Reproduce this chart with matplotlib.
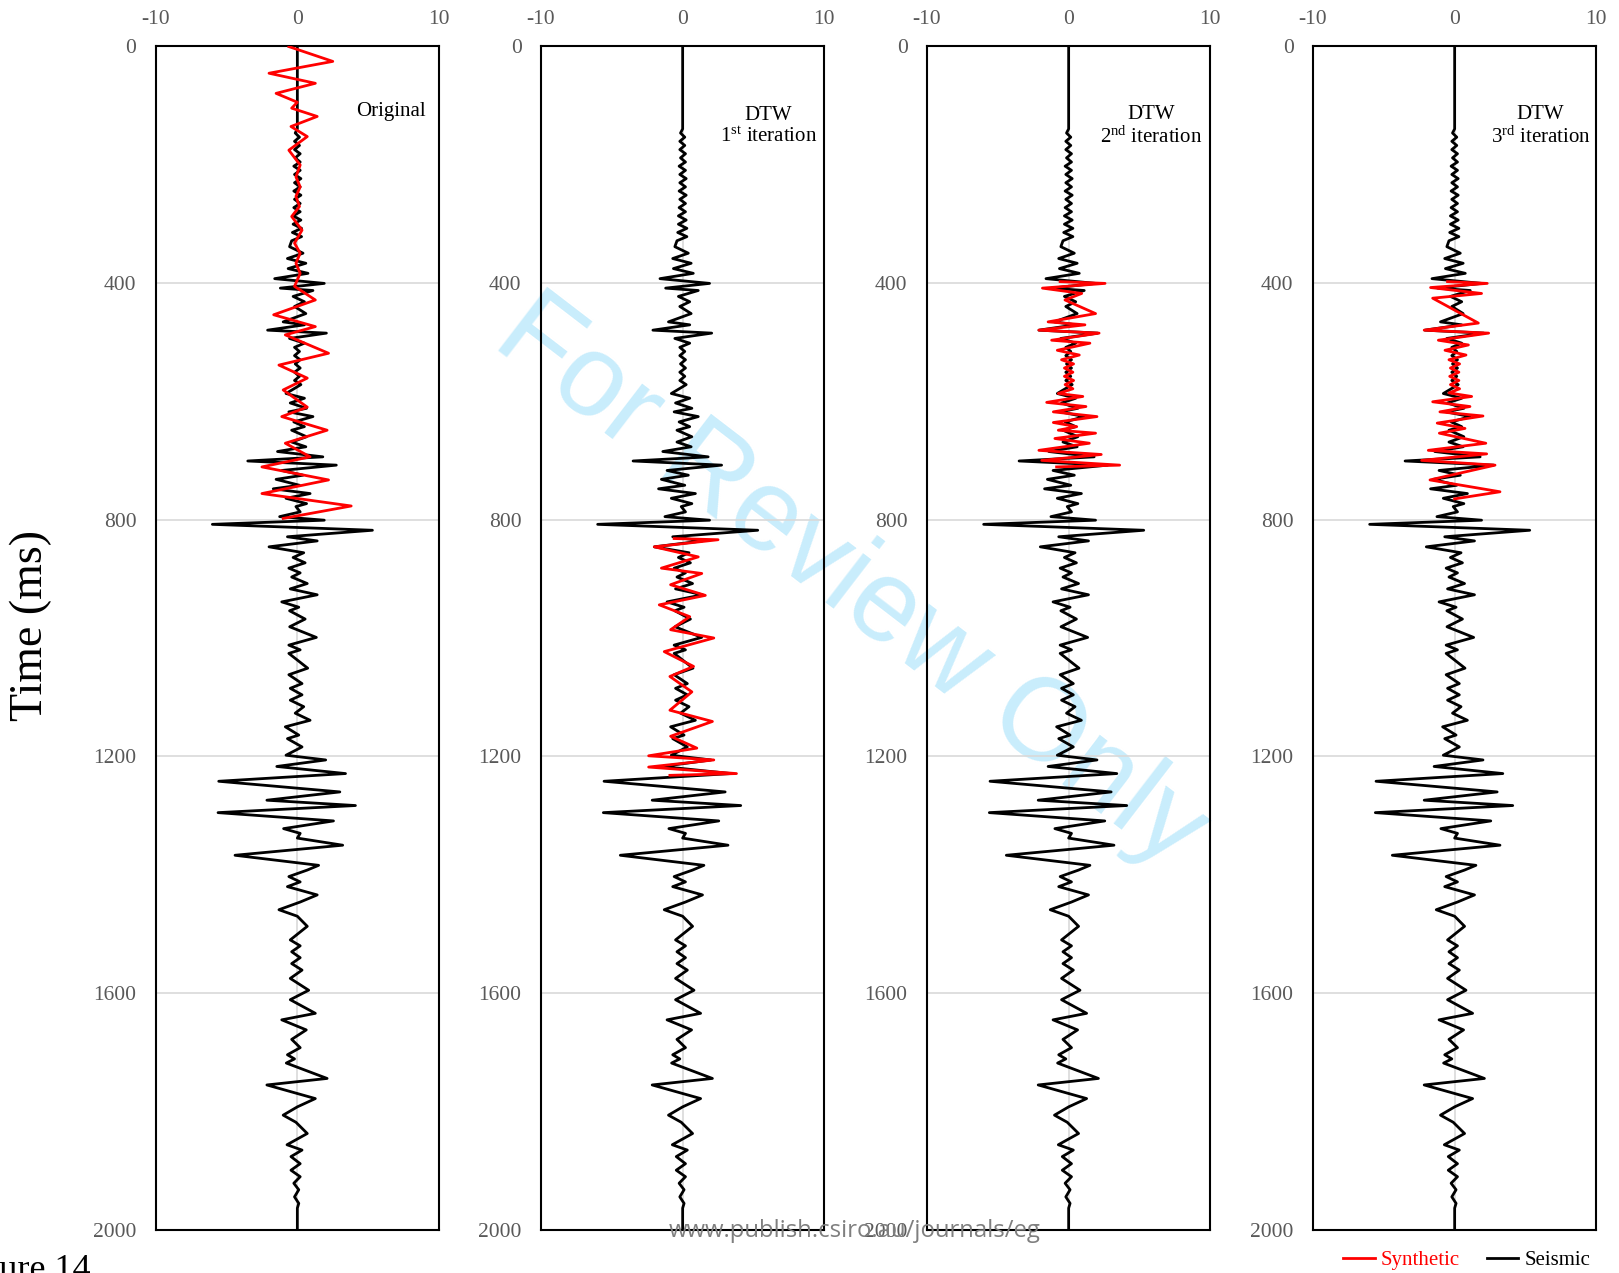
import matplotlib.pyplot as plt
from matplotlib.lines import Line2D

plt.rcParams['font.family'] = ['Liberation Serif', 'DejaVu Serif']
plt.rcParams['mathtext.fontset'] = 'custom'
plt.rcParams['mathtext.rm'] = 'Liberation Serif'
plt.rcParams['mathtext.it'] = 'Liberation Serif:italic'
plt.rcParams['axes.unicode_minus'] = False

# seismic trace (same in every panel): picked peaks/troughs, time in ms
seis_t = [0, 140, 147, 154, 161, 168, 175, 182, 189, 196, 203, 210, 217, 224, 231,
          238, 245, 252, 259, 266, 273, 280, 287, 294, 301, 308, 315, 322, 329,
          339, 350, 359, 367, 376, 384, 393, 401, 409, 413, 423, 432, 440, 452, 466,
          471, 480, 485, 494, 502,
          509, 516, 523, 530, 537, 544, 551, 558, 565, 572,
          587, 595, 603, 612, 618, 626, 635, 643, 649, 660, 669, 677, 685, 694, 701,
          708, 717, 725, 732, 742, 748, 756, 764, 773, 778, 787, 795, 801, 808, 818,
          829, 836, 846, 856, 864, 873, 882, 890, 897, 908, 917, 927, 939, 948, 954,
          968, 981, 999, 1012, 1020, 1026, 1051, 1062, 1077, 1085, 1096, 1105, 1116,
          1127, 1139, 1150, 1164, 1170, 1184, 1198, 1206, 1217, 1229, 1242, 1260, 1274,
          1283, 1295, 1309, 1322, 1330, 1338, 1350, 1367, 1384, 1392, 1403, 1412, 1420,
          1434, 1446, 1459, 1470, 1487,
          1510, 1520, 1530, 1540, 1550, 1561, 1575, 1595, 1611, 1634, 1645, 1662, 1678,
          1692, 1704, 1711, 1718, 1744, 1755, 1778, 1792, 1806, 1818, 1837, 1856, 1865,
          1876, 1888, 1899, 1910, 1921, 1932, 1944, 1955, 1963, 2000]
seis_a = [0, 0, -0.15, 0.15, -0.2, 0.15, -0.2, 0.2, -0.15, 0.2, -0.25, 0.2, -0.2, 0.25, -0.2,
          0.2, -0.25, 0.25, -0.2, 0.2, -0.25, 0.2, -0.3, 0.25, -0.3, 0.3, -0.35, 0.3, -0.4,
          -0.55, 0.4, -0.7, 0.6, -0.65, 0.75, -1.6, 1.9, -1.2, 1.1, -0.3, 0.5, -0.2, 0.6, -1.0,
          0.5, -2.1, 2.05, -0.55, 0.5,
          -0.2, 0.15, -0.2, 0.2, -0.15, 0.2, -0.2, 0.15, -0.2, 0.25,
          -0.8, 0.5, -0.5, 0.65, -0.6, 1.1, -0.25, 0.5, -0.4, 0.65, -0.4, 0.6, -1.4, 1.8, -3.5,
          2.75, -1.1, 0.4, -1.5, 0.15, -1.7, 0.9, -0.8, 0.65, -0.1, 0.2, -1.25, 1.9, -6.0, 5.3,
          -0.7, 1.4, -2.0, 0.45, -0.3, 0.55, -0.6, 0.2, -0.4, 0.7, -0.5, 1.4, -1.1, 0.1, -0.55,
          0.55, -0.54, 1.34, -0.6, 0.2, -0.6, 0.73, -0.6, 0.33, -0.5, 0.33, -0.5, 0.45,
          -0.15, 0.9, -0.85, 0.1, -0.7, 0.33, -0.8, 2.0, -1.45, 3.4, -5.55, 3.0, -2.15,
          4.1, -5.6, 2.55, -0.97, 0.2, 0.0, 3.2, -4.4, 1.5, 0.7, -0.6, 0.2, -0.7,
          1.4, 0.2, -1.3, 0.0, 0.7,
          -0.5, 0.2, -0.4, 0.2, -0.4, 0.33, -0.5, 0.8, -0.5, 1.27, -1.1, 0.63, -0.4,
          0.2, -0.7, -0.2, -0.78, 2.1, -2.15, 1.27, 0.0, -1.0, -0.1, 0.7, -0.73, 0.33,
          -0.45, 0.2, -0.45, 0.2, -0.25, 0.1, -0.2, 0.1, 0, 0]

# synthetic traces, one per panel
syn_orig_t = [1, 26, 46, 63, 80, 95, 105, 119, 136, 153, 176, 201, 221, 238, 254, 271, 288,
              311, 333, 350, 367, 384, 406, 429, 454, 474, 488, 519, 539, 561, 581, 610,
              626, 649, 671, 694, 711, 733, 756, 777, 798]
syn_orig_a = [-0.6, 2.5, -2.0, 1.27, -1.5, 0.0, -0.4, 1.4, -0.45, 0.7, -0.6, 0.2, -0.1, 0.2,
              -0.1, 0.15, -0.4, 0.33, -0.2, 0.2, -0.1, 0.2, -0.2, 1.27, -1.67, 1.27, -0.85,
              2.2, -1.3, 0.7, -1.0, 0.7, -1.1, 2.1, -0.85, 0.9, -2.5, 2.2, -2.5, 3.8, -1.0]

syn_it1_t = [832, 834, 846, 863, 882, 891, 910, 928, 944, 964, 986, 1000, 1023, 1048, 1065,
             1091, 1122, 1141, 1166, 1186, 1199, 1206, 1218, 1229, 1232]
syn_it1_a = [-0.6, 2.5, -2.0, 1.1, -1.5, 1.35, -0.85, 1.6, -1.65, 0.5, -0.85, 2.2, -1.3,
             0.77, -0.9, 0.65, -0.9, 2.1, -0.85, 1.0, -2.4, 2.2, -2.4, 3.8, -0.9]

syn_it2_t = [398, 401, 409, 418, 429, 452, 466, 471, 480, 485, 497, 502, 514, 522, 530, 537,
             544, 551, 558, 565, 572, 579, 587, 592, 602, 609, 618, 626, 636, 643, 649, 654,
             663, 671, 683, 690, 700, 708, 711]
syn_it2_a = [-0.6, 2.57, -1.85, 0.92, -0.26, 1.9, -1.45, 1.15, -2.1, 2.15, -1.2, 1.5, -0.8,
             0.75, -0.5, 0.35, -0.3, 0.3, -0.3, 0.35, -0.25, 0.3, -0.73, 1.0, -1.55, 1.22,
             -1.08, 2.0, -1.08, 0.57, -0.73, 1.9, -0.97, 1.46, -2.1, 2.3, -1.9, 3.6, -0.85]

syn_it3_t = [398, 401, 408, 418, 426, 468, 480, 485, 497, 505, 514, 522, 530, 537, 544, 551,
             558, 565, 572, 579, 586, 592, 601, 609, 618, 625, 637, 646, 654, 671, 683, 689,
             700, 708, 733, 753, 765]
syn_it3_a = [-0.5, 2.3, -1.7, 1.9, -1.55, 1.67, -2.15, 2.4, -1.15, 0.97, -0.68, 0.8, -0.4,
             0.35, -0.3, 0.3, -0.35, 0.3, -0.3, 0.35, -0.4, 1.2, -1.55, 1.08, -1.04, 2.0,
             -1.23, 0.73, -1.08, 2.2, -1.86, 2.26, -2.33, 2.85, -1.74, 3.2, 0.0]

syn_t = [syn_orig_t, syn_it1_t, syn_it2_t, syn_it3_t]
syn_a = [syn_orig_a, syn_it1_a, syn_it2_a, syn_it3_a]
panel_labels = ['Original',
                'DTW\n1$^{\\rm st}$ iteration',
                'DTW\n2$^{\\rm nd}$ iteration',
                'DTW\n3$^{\\rm rd}$ iteration']
x_ticks = [-10, 0, 10]
y_ticks = [0, 400, 800, 1200, 1600, 2000]

W, H = 1619, 1273
fig = plt.figure(figsize=(W / 100, H / 100), dpi=100)

# watermark behind everything
fig.text(850 / W, 1 - 583 / H, 'For Review Only', rotation=-37.5, fontsize=84,
         color='#c9edfc', family='Liberation Sans', ha='center', va='center',
         rotation_mode='anchor', zorder=-5)

lefts = [155.7, 541, 927, 1313]
label_x = [0.954, 0.975, 0.972, 0.979]
for i, x0 in enumerate(lefts):
    ax = fig.add_axes([x0 / W, 43 / H, 283.3 / W, 1184 / H])
    ax.set_facecolor('none')
    ax.plot(seis_a, seis_t, color='black', lw=2.0, zorder=3, solid_joinstyle='round')
    ax.plot(syn_a[i], syn_t[i], color='red', lw=2.0, zorder=4, solid_joinstyle='round')
    ax.set_xlim(-10, 10)
    ax.set_ylim(2000, 0)
    ax.set_xticks(x_ticks)
    ax.set_yticks(y_ticks)
    ax.xaxis.tick_top()
    ax.tick_params(length=0, labelsize=15.5, labelcolor='#595959', pad=14)
    ax.tick_params(axis='x', pad=12)
    ax.grid(color='#d9d9d9', lw=1.2, zorder=0)
    for s in ax.spines.values():
        s.set_linewidth(1.5)
        s.set_color('black')
    if i == 0:
        ax.text(label_x[i], 0.9447, panel_labels[i], transform=ax.transAxes,
                ha='right', va='center', fontsize=15)
    else:
        ax.text(label_x[i], 0.932, panel_labels[i], transform=ax.transAxes,
                ha='right', va='center', multialignment='center', fontsize=15)

fig.text(31 / W, 0.509, 'Time (ms)', rotation=90, fontsize=33, ha='center', va='center')

fig.text(855 / W, 1 - 1231 / H, 'www.publish.csiro.au/journals/eg', ha='center',
         va='center', color='#7f7f7f', fontsize=17.2, family='Open Sans', zorder=10)

fig.text(91 / W, 19 / H, 'Figure 14', ha='right', va='top', fontsize=26)

handles = [Line2D([], [], color='red', lw=2), Line2D([], [], color='black', lw=2)]
leg = fig.legend(handles, ['Synthetic', 'Seismic'], ncol=2, frameon=False, loc='center',
                 bbox_to_anchor=(1467 / W, 1 - 1260 / H), fontsize=15, handlelength=1.5,
                 handletextpad=0.3, columnspacing=1.3)
leg.get_texts()[0].set_color('red')

plt.savefig('out.png', dpi=100)
